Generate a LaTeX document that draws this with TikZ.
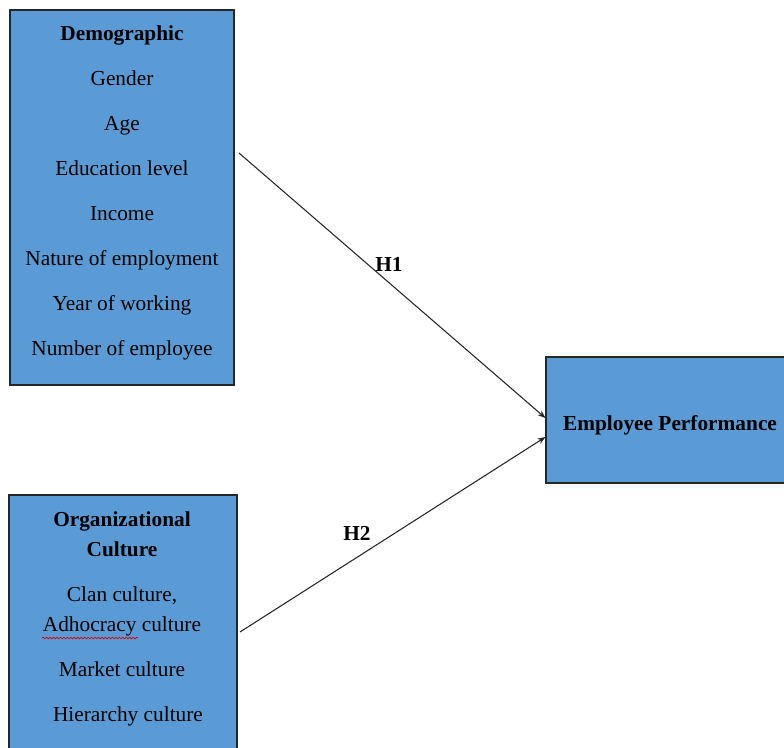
\documentclass[tikz,border=0pt]{standalone}
\usepackage{fontspec}
\setmainfont{Liberation Serif}
\usetikzlibrary{positioning,arrows.meta,decorations.pathmorphing}
\definecolor{boxblue}{RGB}{91,155,213}

\begin{document}
\begin{tikzpicture}[x=0.75pt, y=-0.75pt,
		block/.style={rectangle, draw=black!85, fill=boxblue, line width=0.8pt},
		items/.style={align=center, font=\fontsize{16}{22.5}\selectfont},
		hyp/.style={font=\fontsize{16}{19}\selectfont\bfseries},
		link/.style={-{Stealth[length=6pt,width=4.5pt]}, line width=0.8pt, black!85},
		]
		\clip (0,0) rectangle (784,747);

		%Main Nodes
		\node[block, minimum width=168pt, minimum height=281.25pt]	(demo)	at (122,197.5)	{};
		\node[block, minimum width=171pt, minimum height=206.25pt]	(orgcult)	at (123,632.5)	{};
		\node[block, minimum width=186pt, minimum height=94.5pt, hyp, text height=19pt]	(perf)	at (670,420)	{Employee Performance};

		%Demographic
		\node[items]	(demo_list)	at (122,193)	{\textbf{Demographic}\\[11.25pt]
			Gender\\[11.25pt] Age\\[11.25pt] Education level\\[11.25pt] Income\\[11.25pt]
			Nature of employment\\[11.25pt] Year of working\\[11.25pt] Number of employee};

		%Organizational Culture
		\node[items]	(org_list)	at (122,619)	{\textbf{Organizational}\\ \textbf{Culture}\\[11.25pt]
			Clan culture,\\ Adhocracy culture\\[11.25pt] Market culture\\[11.25pt]
			\hspace*{9pt}Hierarchy culture};
		\draw[red!85!black, line width=0.5pt, decorate, decoration={snake, amplitude=0.6pt, segment length=2.6pt}]
			(42,638) -- (138,638);

		%Hypotheses
		\coordinate	(h1_from)	at (239,153);
		\coordinate	(h2_from)	at (240,632);
		\draw[link]	(h1_from)	--	([yshift=1.5pt]perf.west);
		\draw[link]	(h2_from)	--	([yshift=-12.75pt]perf.west);
		\node[hyp]	(h1)	at (389,264)	{H1};
		\node[hyp]	(h2)	at (357,533)	{H2};
	\end{tikzpicture}
\end{document}
